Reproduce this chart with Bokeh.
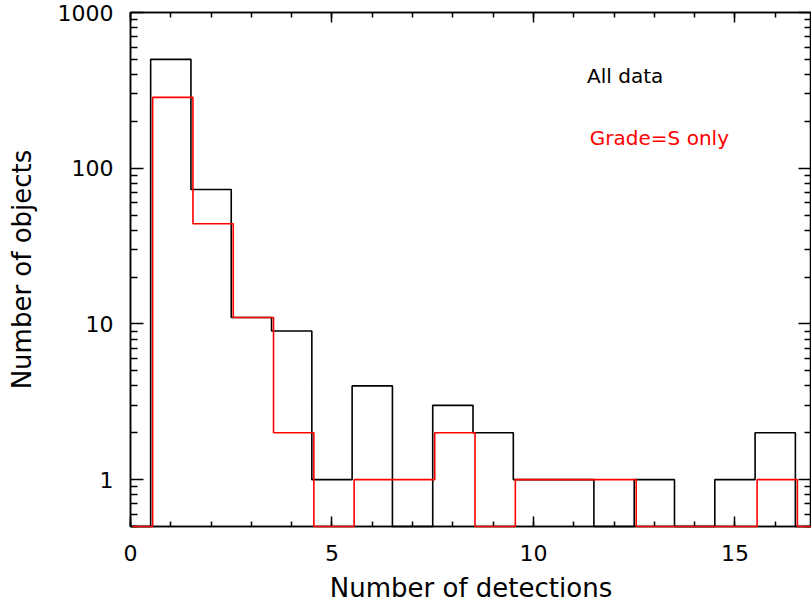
from bokeh.plotting import figure
from bokeh.models import FixedTicker, LinearAxis, LogAxis, Range1d, Label, PrintfTickFormatter
from bokeh.embed import file_html
from bokeh.resources import INLINE

# ---- data ----
bins = list(range(0, 18))  # number of detections (bin centres)
all_counts = [0, 500, 73, 11, 9, 1, 4, 0, 3, 2, 1, 1, 0, 1, 0, 1, 2, 0]
grade_s_counts = [0, 285, 44, 11, 2, 0, 1, 1, 2, 0, 1, 1, 1, 0, 0, 0, 1, 0]
x_major = [0, 5, 10, 15]
y_major = [1, 10, 100, 1000]

Y_MIN, Y_MAX = 0.5, 1000
X_MIN, X_MAX = 0, 16.9
RED_SHIFT = 0.05
FONT = "DejaVu Sans"

def floor_zero(vals):
    return [v if v > 0 else Y_MIN for v in vals]

p = figure(width=811, height=606, y_axis_type="log",
           x_range=Range1d(X_MIN, X_MAX), y_range=Range1d(Y_MIN, Y_MAX),
           output_backend="svg", toolbar_location=None,
           min_border_left=130, min_border_right=0, min_border_top=12,
           min_border_bottom=80)
p.grid.visible = False
p.outline_line_color = "black"
p.outline_line_width = 1.5
p.background_fill_color = "white"
p.border_fill_color = "white"

x_ticker = FixedTicker(ticks=x_major, minor_ticks=list(range(0, 18)))
y_minor = [m * d for d in (0.1, 1, 10, 100) for m in range(2, 10) if Y_MIN <= m * d <= Y_MAX]
y_ticker = FixedTicker(ticks=y_major, minor_ticks=y_minor)

def style_axis(ax, tick_major, tick_minor):
    ax.axis_line_width = 1.5
    ax.axis_line_color = "black"
    ax.major_tick_line_width = 1.5
    ax.minor_tick_line_width = 1.5
    ax.major_tick_in = tick_major
    ax.major_tick_out = 0
    ax.minor_tick_in = tick_minor
    ax.minor_tick_out = 0
    ax.major_label_text_font = FONT
    ax.major_label_text_font_size = "22px"
    ax.major_label_text_color = "black"
    ax.axis_label_text_font = FONT
    ax.axis_label_text_font_size = "26px"
    ax.axis_label_text_font_style = "normal"
    ax.axis_label_text_color = "black"

def hide_labels(ax, ticks):
    ax.major_label_text_font_size = "1px"
    ax.major_label_overrides = {t: "" for t in ticks}
    ax.major_label_standoff = 0

xa = p.xaxis[0]
xa.ticker = x_ticker
style_axis(xa, 10, 5)
xa.major_label_standoff = 18
xa.axis_label = "Number of detections"
xa.axis_label_standoff = 9

ya = p.yaxis[0]
ya.ticker = y_ticker
ya.formatter = PrintfTickFormatter(format="%d")
style_axis(ya, 13, 7)
ya.major_label_standoff = 17
ya.axis_label = "Number of objects"
ya.axis_label_standoff = 18

top = LinearAxis(ticker=x_ticker)
style_axis(top, 10, 5)
hide_labels(top, x_major)
p.add_layout(top, "above")

right = LogAxis(ticker=y_ticker)
style_axis(right, 13, 7)
hide_labels(right, y_major)
p.add_layout(right, "right")

r1 = p.step(x=bins, y=floor_zero(all_counts), mode="center",
            line_color="black", line_width=1.6)
r2 = p.step(x=[b + RED_SHIFT for b in bins], y=floor_zero(grade_s_counts), mode="center",
            line_color="#ff0000", line_width=1.6)
r1.level = "overlay"
r2.level = "overlay"

p.add_layout(Label(x=11.33, y=390, text="All data", text_baseline="middle",
                   text_font=FONT, text_font_size="20px", text_color="black"))
p.add_layout(Label(x=11.4, y=156, text="Grade=S only", text_baseline="middle",
                   text_font=FONT, text_font_size="20px", text_color="#ff0000"))

open("out.html", "w").write(file_html(p, INLINE))
